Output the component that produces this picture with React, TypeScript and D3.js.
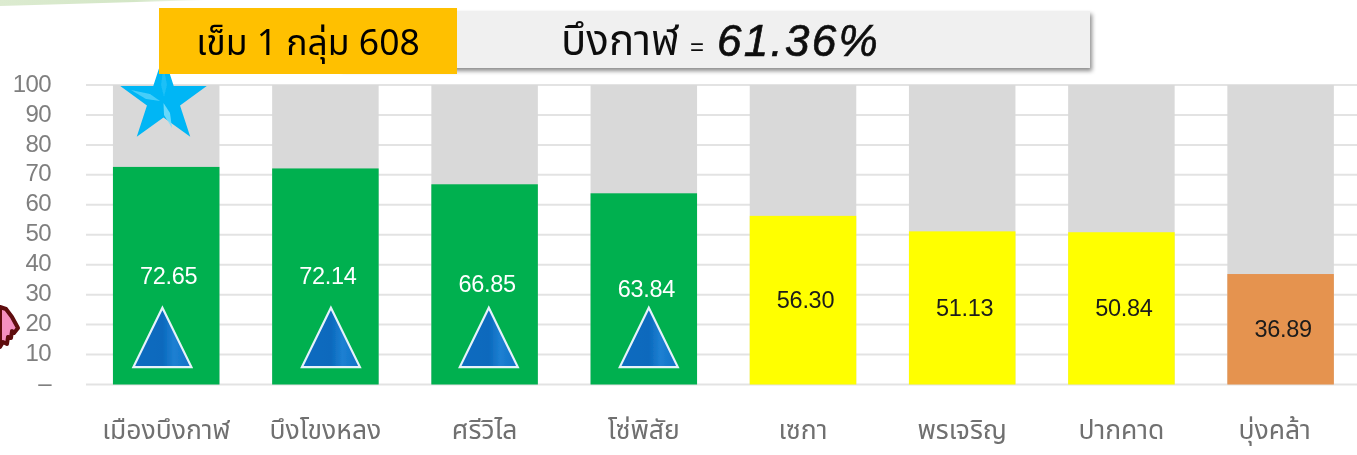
import React from "react";
import * as d3 from "d3";

const districts = ["เมืองบึงกาฬ", "บึงโขงหลง", "ศรีวิไล", "โซ่พิสัย", "เซกา", "พรเจริญ", "ปากคาด", "บุ่งคล้า"];
const coverage = [72.65, 72.14, 66.85, 63.84, 56.3, 51.13, 50.84, 36.89];
const barColors = ["#00B050", "#00B050", "#00B050", "#00B050", "#FFFF00", "#FFFF00", "#FFFF00", "#E59350"];
const labelColors = ["#FFFFFF", "#FFFFFF", "#FFFFFF", "#FFFFFF", "#1a1a1a", "#1a1a1a", "#1a1a1a", "#1a1a1a"];
const upMarkers = ["เมืองบึงกาฬ", "บึงโขงหลง", "ศรีวิไล", "โซ่พิสัย"];
const yTicks = [0, 10, 20, 30, 40, 50, 60, 70, 80, 90, 100];
const badgeText = "เข็ม 1 กลุ่ม 608";
const provinceName = "บึงกาฬ";
const provinceValue = "61.36%";

const W = 1357, H = 455;
const thai = "'Noto Sans Thai','Noto Sans','Liberation Sans','DejaVu Sans',sans-serif";
const latin = "'Liberation Sans','DejaVu Sans',sans-serif";
const markerNudge = [-3.8, 5.5, 4.2, 5];

export default function App() {
  const x = d3.scaleBand<string>().domain(districts).range([86.6, 1360.2]).paddingInner(0.331).paddingOuter(0.1655);
  const y = d3.scaleLinear().domain([0, 100]).range([384.5, 85]);
  const starC: [number, number] = [163.5, 100];
  const starPts = d3.range(10).map(i => {
    const r = i % 2 === 0 ? 45.5 : 17.4;
    const a = -Math.PI / 2 + i * Math.PI / 5;
    return [starC[0] + r * Math.cos(a), starC[1] + r * Math.sin(a)];
  });
  return (
    <svg width={W} height={H} style={{ position: "absolute", left: 0, top: 0, background: "#fff" }}>
      <defs>
        <linearGradient id="band" x1="0" x2="1" y1="0" y2="0">
          <stop offset="0" stopColor="#dcebd0" />
          <stop offset="0.65" stopColor="#d3e6c6" />
          <stop offset="1" stopColor="#f4f9f0" />
        </linearGradient>
        <linearGradient id="tri" x1="0" x2="1" y1="0" y2="0">
          <stop offset="0" stopColor="#0d6cc0" />
          <stop offset="0.5" stopColor="#0a69bd" />
          <stop offset="0.7" stopColor="#1d80d2" />
          <stop offset="1" stopColor="#0f70c6" />
        </linearGradient>
        <filter id="shadow" x="-5%" y="-20%" width="110%" height="150%">
          <feDropShadow dx="2" dy="3" stdDeviation="2" floodColor="#000" floodOpacity="0.45" />
        </filter>
        <filter id="soft" x="0" y="0" width="100%" height="100%" filterUnits="userSpaceOnUse" primitiveUnits="userSpaceOnUse">
          <feGaussianBlur stdDeviation="0.45" />
        </filter>
      </defs>
      <g filter="url(#soft)">
        <rect width={W} height={H} fill="#fff" />
        <path d="M0,0H205L0,6Z" fill="url(#band)" />

        {yTicks.map(t => (
          <g key={t}>
            <line x1={86} x2={W} y1={y(t)} y2={y(t)} stroke="#e3e3e3" strokeWidth={2} />
            <text x={51} y={y(t) - 2} dy="0.36em" textAnchor="end" fontFamily={latin} fontSize={24} fill="#7f7f7f" letterSpacing={-0.6}>
              {t === 0 ? "–" : t}
            </text>
          </g>
        ))}

        {districts.map((d, i) => {
          const bx = x(d)!, bw = x.bandwidth(), cx = bx + bw / 2;
          return (
            <g key={d}>
              <rect x={bx} y={y(100)} width={bw} height={y(0) - y(100)} fill="#D9D9D9" />
              <rect x={bx} y={y(coverage[i])} width={bw} height={y(0) - y(coverage[i])} fill={barColors[i]} />
              <text x={cx + 2.5} y={y(coverage[i] / 2) - 0.5} dy="0.36em" textAnchor="middle" fontFamily={latin} fontSize={23.5} fill={labelColors[i]} letterSpacing={-0.3}>
                {coverage[i].toFixed(2)}
              </text>
              <text x={cx - (i === 7 ? 6 : 0)} y={439} textAnchor="middle" fontFamily={thai} fontSize={26.5} fill="#6f6f6f">{d}</text>
            </g>
          );
        })}

        {upMarkers.map((d, i) => {
          const cx = x(d)! + x.bandwidth() / 2 + markerNudge[i];
          return (
            <path key={d} d={`M${cx},${y(25.6)}L${cx + 29},${y(5.8)}H${cx - 29}Z`} fill="url(#tri)" stroke="#e6f2fb" strokeWidth={2.2} strokeLinejoin="miter" />
          );
        })}

        <polygon points={starPts.map(p => p.join(",")).join(" ")} fill="#00B6F5" />
        <path d={d3.line()([[131, 90], [150, 94], [160, 101], [146, 99]])! + "Z"} fill="#57d4fa" opacity={0.8} />
        <path d={d3.line()([[163.5, 103], [170, 113], [172, 128], [164, 115]])! + "Z"} fill="#7adffb" opacity={0.85} />
        <path d={d3.line()([[163.5, 66], [167, 85], [164, 97], [161, 85]])! + "Z"} fill="#2cc6f8" opacity={0.6} />

        <rect x={340} y={11} width={750} height={57} fill="#F0F0F0" filter="url(#shadow)" />
        <text x={561} y={55} fontFamily={thai} fontSize={42} fill="#111">{provinceName}</text>
        <text x={690} y={55} fontFamily={latin} fontSize={24} fill="#111">=</text>
        <text x={717} y={56} fontFamily={latin} fontSize={44} fontStyle="italic" fill="#111" stroke="#111" strokeWidth={0.7} letterSpacing={2.3}>{provinceValue}</text>

        <rect x={159} y={8} width={298} height={66} fill="#FFC000" />
        <text x={308} y={55} textAnchor="middle" fontFamily={thai} fontSize={35.5} fill="#000">{badgeText}</text>

        <path d="M0,307L6,309L12,317L18,328L14,333L12,331L11,338L8,337L7,344L3,342L0,347Z" fill="#f48fbf" stroke="#5e0a10" strokeWidth={4} strokeLinejoin="round" />
      </g>
    </svg>
  );
}
